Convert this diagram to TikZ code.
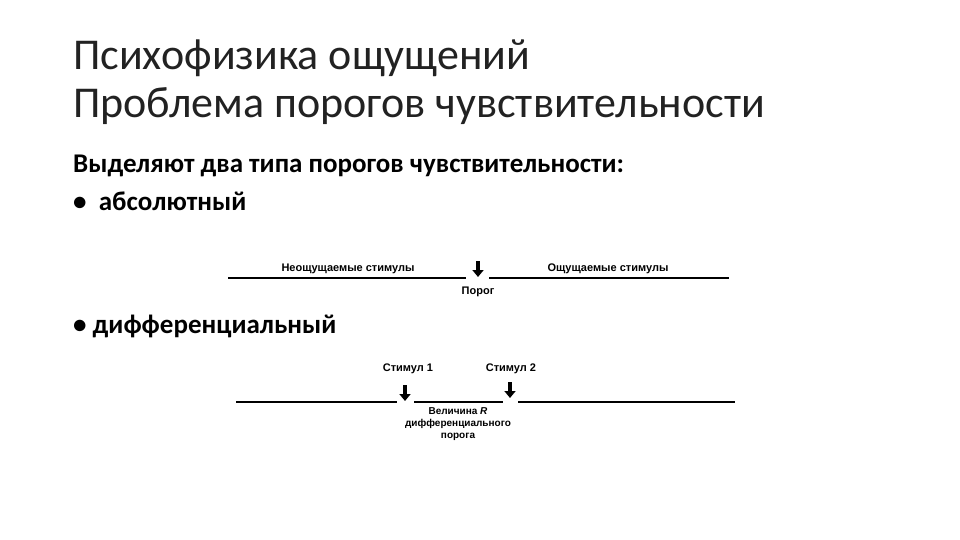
\documentclass[tikz,border=0pt]{standalone}
\usepackage{fontspec}
\setmainfont{Carlito}
\newfontfamily\diafont{Liberation Sans}
\usetikzlibrary{arrows.meta}
\begin{document}
\begin{tikzpicture}[x=1pt,y=-1pt,
  title/.style={anchor=base west,inner sep=0,font=\fontsize{44}{44}\selectfont\addfontfeature{Color=222222}},
  body/.style={anchor=base west,inner sep=0,font=\fontsize{27}{27}\selectfont\bfseries},
  lab/.style={inner sep=0,font=\diafont\fontsize{11}{12}\selectfont\bfseries,align=center},
  axis/.style={line width=1.1pt},
  thr/.style={line width=3.2pt,-{Triangle[width=11pt,length=7pt]}}]
\useasboundingbox (0,0) rectangle (960,540);
\node[title] (t1) at (73,70) {Психофизика ощущений};
\node[title] (t2) at (73,118) {Проблема порогов чувствительности};
\node[body] (b0) at (73,173) {Выделяют два типа порогов чувствительности:};
\node[body] (b1) at (73,210) {\textbullet\ \ абсолютный};
\node[body] (b2) at (73,333) {\textbullet\ дифференциальный};
% diagram 1
\coordinate (a1) at (228,278); \coordinate (a2) at (466,278);
\coordinate (a3) at (489,278); \coordinate (a4) at (729,278);
\draw[axis] (a1) -- (a2); \draw[axis] (a3) -- (a4);
\coordinate (p1) at (478,261); \coordinate (p2) at (478,277);
\draw[thr] (p1) -- (p2);
\node[lab] (n1) at (348,269) {Неощущаемые стимулы};
\node[lab] (n2) at (608,269) {Ощущаемые стимулы};
\node[lab] (n3) at (478,292) {Порог};
% diagram 2
\coordinate (c1) at (236,402); \coordinate (c2) at (397,402);
\coordinate (c3) at (414,402); \coordinate (c4) at (503,402);
\coordinate (c5) at (518,402); \coordinate (c6) at (735,402);
\draw[axis] (c1) -- (c2); \draw[axis] (c3) -- (c4); \draw[axis] (c5) -- (c6);
\coordinate (s1a) at (405,385); \coordinate (s1b) at (405,401);
\coordinate (s2a) at (510,382); \coordinate (s2b) at (510,398);
\draw[thr] (s1a) -- (s1b); \draw[thr] (s2a) -- (s2b);
\node[lab] (m1) at (408,369) {Стимул 1};
\node[lab] (m2) at (511,369) {Стимул 2};
\node[lab,font=\diafont\fontsize{10}{12}\selectfont\bfseries] (m3) at (458,424) {Величина \textit{R}\\дифференциального\\порога};
\end{tikzpicture}
\end{document}
